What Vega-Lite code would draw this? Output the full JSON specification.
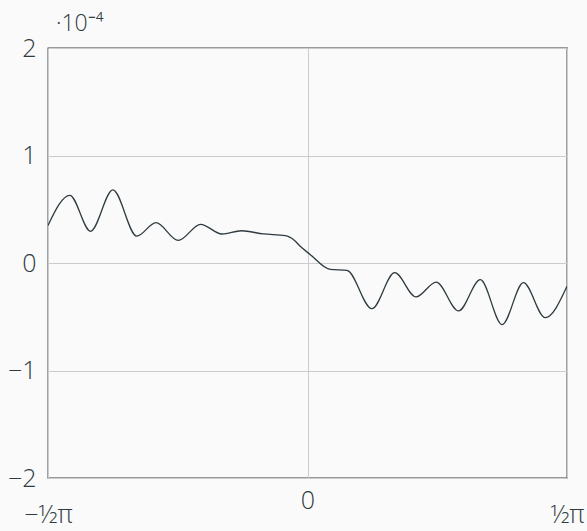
{
  "$schema": "https://vega.github.io/schema/vega-lite/v6.json",
  "autosize": "none",
  "padding": {"left": 48, "top": 48, "right": 20, "bottom": 53},
  "width": 519,
  "height": 430,
  "background": "#fafafa",
  "config": {
    "view": {"stroke": "#2e3b40", "strokeWidth": 1.3},
    "font": "Open Sans"
  },
  "title": {
    "text": "·10⁻⁴",
    "anchor": "start",
    "frame": "group",
    "dx": 8,
    "offset": 0,
    "fontSize": 23,
    "fontWeight": 300,
    "color": "#2e3b40",
    "font": "Open Sans"
  },
  "data": {
    "values": [
      {"x": -0.5, "y": 0.35},
      {"x": -0.458, "y": 0.63},
      {"x": -0.418, "y": 0.295},
      {"x": -0.375, "y": 0.68},
      {"x": -0.329, "y": 0.25},
      {"x": -0.292, "y": 0.375},
      {"x": -0.249, "y": 0.21},
      {"x": -0.206, "y": 0.36},
      {"x": -0.165, "y": 0.27},
      {"x": -0.127, "y": 0.30},
      {"x": -0.085, "y": 0.27},
      {"x": -0.043, "y": 0.255},
      {"x": -0.025, "y": 0.21},
      {"x": -0.014, "y": 0.155},
      {"x": 0.005, "y": 0.08},
      {"x": 0.044, "y": -0.06},
      {"x": 0.076, "y": -0.068},
      {"x": 0.124, "y": -0.425},
      {"x": 0.168, "y": -0.09},
      {"x": 0.209, "y": -0.316},
      {"x": 0.248, "y": -0.177},
      {"x": 0.291, "y": -0.446},
      {"x": 0.333, "y": -0.155},
      {"x": 0.375, "y": -0.573},
      {"x": 0.416, "y": -0.183},
      {"x": 0.458, "y": -0.508},
      {"x": 0.5, "y": -0.217}
    ]
  },
  "mark": {"type": "line", "interpolate": "monotone", "color": "#2e3b40", "strokeWidth": 1.3, "clip": true},
  "encoding": {
    "x": {
      "field": "x",
      "type": "quantitative",
      "scale": {"domain": [-0.5, 0.5], "nice": false, "zero": false},
      "axis": {
        "values": [-0.5, 0, 0.5],
        "title": null,
        "domain": false,
        "ticks": false,
        "grid": true,
        "gridColor": "#cccccc",
        "gridWidth": 1,
        "labelFontSize": 25,
        "labelFontWeight": 300,
        "labelColor": "#2e3b40",
        "labelPadding": 10,
        "labelLineHeight": 14,
        "labelFlush": false,
        "labelOverlap": false,
        "labelExpr": "datum.value < 0 ? ['', '−½π'] : (datum.value > 0 ? ['', '½π'] : '0')"
      }
    },
    "y": {
      "field": "y",
      "type": "quantitative",
      "scale": {"domain": [-2, 2], "nice": false},
      "axis": {
        "values": [-2, -1, 0, 1, 2],
        "title": null,
        "domain": false,
        "ticks": false,
        "grid": true,
        "gridColor": "#cccccc",
        "gridWidth": 1,
        "labelFontSize": 25,
        "labelFontWeight": 300,
        "labelColor": "#2e3b40",
        "labelPadding": 12,
        "labelFlush": false,
        "labelOverlap": false,
        "labelExpr": "datum.value < 0 ? '−' + abs(datum.value) : '' + datum.value"
      }
    }
  }
}
